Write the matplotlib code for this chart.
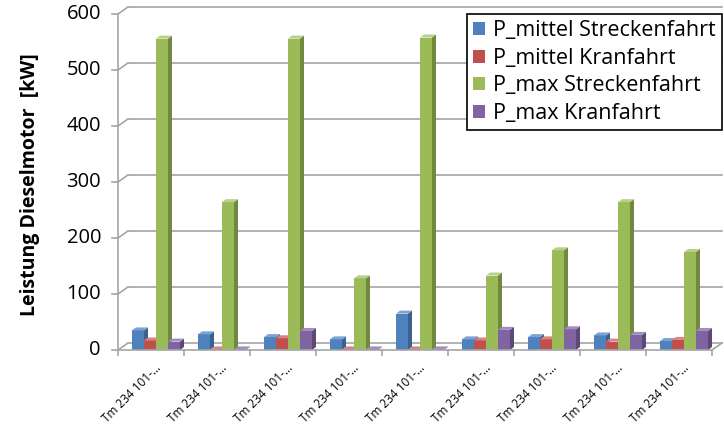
import matplotlib
matplotlib.use("Agg")
import matplotlib.pyplot as plt
from matplotlib.patches import Polygon, Patch
import numpy as np

# Fahrzeuge und Leistungswerte (kW)
fahrzeuge = ["Tm 234 101-\u2026"] * 9
p_mittel_strecke = [35, 28, 23, 19, 65, 19, 23, 26, 16]
p_mittel_kran = [17, 1, 21, 1, 1, 17, 19, 15, 18]
p_max_strecke = [556, 264, 556, 128, 558, 133, 178, 264, 175]
p_max_kran = [15, 1, 34, 1, 1, 36, 37, 27, 34]

serien = [
    ("P_mittel Streckenfahrt", p_mittel_strecke),
    ("P_mittel Kranfahrt", p_mittel_kran),
    ("P_max Streckenfahrt", p_max_strecke),
    ("P_max Kranfahrt", p_max_kran),
]
# Farben: Vorderseite, Seite, Deckel
farben = [
    ("#4F81BD", "#3A6191", "#7FA3D1"),
    ("#C0504D", "#8E3A38", "#D98481"),
    ("#9BBB59", "#71893F", "#B9D08A"),
    ("#8064A2", "#5D4878", "#A28CC0"),
]

schrift = "Open Sans"

fig = plt.figure(figsize=(7.24, 4.32), dpi=100)
ax = fig.add_axes([118 / 724, 82 / 432, 594 / 724, 336 / 432])
ax.set_xlim(0, 9)
ax.set_ylim(0, 600)
ax.axis("off")

px_x = 9 / 594.0      # Dateneinheiten pro Pixel (x)
px_y = 600 / 336.0    # Dateneinheiten pro Pixel (y)
wdx, wdy = 10 * px_x, 7 * px_y   # Tiefe der Rueckwand
bdx, bdy = 4 * px_x, 3 * px_y    # Tiefe der Saeulen

grau = "#A6A6A6"
# Rueckwand-Gitter und Seitenwand
for v in range(0, 601, 100):
    ax.plot([0, wdx], [v, v + wdy], color=grau, lw=1.2, clip_on=False, zorder=1)
    ax.plot([wdx, 9 + wdx], [v + wdy, v + wdy], color=grau, lw=1.2, clip_on=False, zorder=1)
    ax.plot([-6 * px_x, 0], [v, v], color=grau, lw=1.2, clip_on=False, zorder=1)
    ax.text(-17 * px_x, v, str(v), ha="right", va="center", fontsize=14.5,
            family=schrift, color="#000000")
# Boden
ax.plot([9, 9 + wdx], [0, wdy], color=grau, lw=1.2, clip_on=False, zorder=1)
ax.plot([0, 9], [0, 0], color=grau, lw=1.2, clip_on=False, zorder=5)
ax.plot([0, 0], [0, 600], color=grau, lw=1.2, clip_on=False, zorder=5)
for i in range(10):
    ax.plot([i, i], [0, -5 * px_y], color=grau, lw=1.2, clip_on=False, zorder=5)

# Saeulen mit Seiten- und Deckflaeche
breite = 12 / 66.0
start = 14 / 66.0
for s, (name, werte) in enumerate(serien):
    vorne, seite, deckel = farben[s]
    x0 = np.arange(len(werte)) + start + s * breite
    ax.bar(x0, werte, width=breite, align="edge", color=vorne, zorder=3, clip_on=False)
    for x, h in zip(x0, werte):
        ax.add_patch(Polygon([(x + breite, 0), (x + breite + bdx, bdy),
                              (x + breite + bdx, h + bdy), (x + breite, h)],
                             closed=True, facecolor=seite, edgecolor="none",
                             zorder=3, clip_on=False))
        ax.add_patch(Polygon([(x, h), (x + bdx, h + bdy),
                              (x + breite + bdx, h + bdy), (x + breite, h)],
                             closed=True, facecolor=deckel, edgecolor="none",
                             zorder=3, clip_on=False))

# Kategoriebeschriftung
for i, name in enumerate(fahrzeuge):
    ax.text(i + 0.55, -11 * px_y, name, rotation=45, ha="right", va="top",
            rotation_mode="anchor", fontsize=8.5, family=schrift)

fig.text(30 / 724, 1 - 185 / 432, "Leistung Dieselmotor  [kW]", rotation=90,
         ha="center", va="center", fontsize=14, fontweight="bold", family=schrift)

handles = [Patch(facecolor=farben[i][0], label=serien[i][0]) for i in range(4)]
leg = fig.legend(handles=handles, loc="upper left",
                 bbox_to_anchor=(467 / 724, 1 - 14 / 432), frameon=True,
                 fancybox=False, edgecolor="black", framealpha=1,
                 prop={"family": schrift, "size": 15.5}, handlelength=0.55,
                 handleheight=0.55, handletextpad=0.35, labelspacing=0.3,
                 borderpad=0.3, borderaxespad=0)
leg.get_frame().set_linewidth(1.2)

fig.savefig("out.png", dpi=100)
